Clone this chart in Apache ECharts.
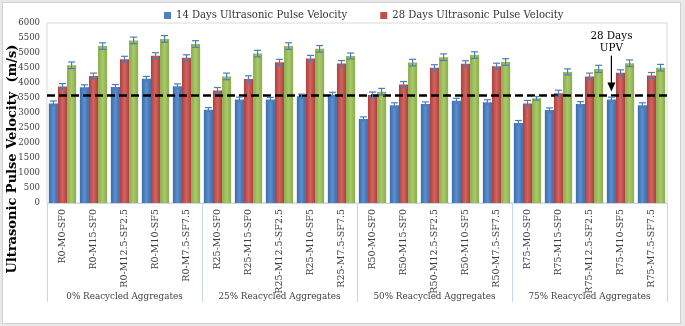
<!DOCTYPE html>
<html>
<head>
<meta charset="utf-8">
<script src="https://cdn.jsdelivr.net/npm/echarts@6/dist/echarts.min.js"></script>
<style>
  html, body { margin: 0; padding: 0; background: #e9e9e9; }
  #chart {
    position: absolute; left: 2px; top: 2px;
    width: 679px; height: 322px;
    background: #fff; border: 1px solid #d0d0d0; box-sizing: border-box;
  }
</style>
</head>
<body>
<div id="chart"></div>
<script>
const categories = [
  'R0-M0-SF0', 'R0-M15-SF0', 'R0-M12.5-SF2.5', 'R0-M10-SF5', 'R0-M7.5-SF7.5',
  'R25-M0-SF0', 'R25-M15-SF0', 'R25-M12.5-SF2.5', 'R25-M10-SF5', 'R25-M7.5-SF7.5',
  'R50-M0-SF0', 'R50-M15-SF0', 'R50-M12.5-SF2.5', 'R50-M10-SF5', 'R50-M7.5-SF7.5',
  'R75-M0-SF0', 'R75-M15-SF0', 'R75-M12.5-SF2.5', 'R75-M10-SF5', 'R75-M7.5-SF7.5'
]
const groups = ['0% Reacycled Aggregates', '25% Reacycled Aggregates', '50% Reacycled Aggregates', '75% Reacycled Aggregates']

const seriesNames = ['14 Days Ultrasonic Pulse Velocity', '28 Days Ultrasonic Pulse Velocity', '56 Days Ultrasonic Pulse Velocity']

const upv14 = [3320, 3860, 3870, 4140, 3890, 3110, 3450, 3450, 3560, 3610, 2800, 3260, 3300, 3410, 3360, 2670, 3100, 3300, 3450, 3260]
const upv28 = [3880, 4230, 4790, 4910, 4840, 3750, 4130, 4690, 4820, 4650, 3600, 3950, 4510, 4640, 4560, 3320, 3660, 4220, 4340, 4250]
const upv56 = [4590, 5230, 5420, 5470, 5300, 4220, 4980, 5230, 5140, 4900, 3710, 4680, 4860, 4930, 4700, 3490, 4370, 4470, 4660, 4510]

const err14 = [80, 80, 80, 80, 80, 70, 80, 70, 70, 80, 70, 80, 70, 80, 80, 80, 70, 80, 80, 80]
const err28 = [100, 100, 100, 100, 100, 100, 110, 100, 100, 100, 100, 100, 100, 100, 100, 100, 100, 110, 100, 100]
const err56 = [110, 110, 110, 110, 110, 110, 110, 110, 110, 100, 110, 110, 110, 110, 110, 60, 100, 120, 110, 110]

const upvLimit = 3580
const arrowCategory = 'R75-M10-SF5'

const yTicks = { min: 0, max: 6000, interval: 500 }

const colors = [
  ['#3a6cab', '#5c8fcf', '#3a6cab'],
  ['#b03f3c', '#cf6461', '#b03f3c'],
  ['#8aac4a', '#a9c86a', '#8aac4a']
]

const serif = 'DejaVu Serif'
const serifNarrow = '"DejaVu Serif Condensed", "DejaVu Serif"'
const gapRatio = 0.12

const grad = (c) => new echarts.graphic.LinearGradient(0, 0, 1, 0, [
  { offset: 0, color: c[0] }, { offset: 0.5, color: c[1] }, { offset: 1, color: c[2] }
])

const errRender = (idx) => (params, api) => {
  const x = api.value(0)
  const v = api.value(1)
  const e = api.value(2)
  const band = api.size([1, 0])[0]
  const bw = band * (1 - gapRatio) / 3
  const cx = api.coord([x, v])[0] + (idx - 1) * bw
  const hi = api.coord([x, v + e])[1]
  const lo = api.coord([x, v - e])[1]
  const st = { stroke: '#4a7ebb', lineWidth: 1.2 }
  return {
    type: 'group',
    children: [
      { type: 'line', shape: { x1: cx, y1: hi, x2: cx, y2: lo }, style: st },
      { type: 'line', shape: { x1: cx - 3.5, y1: hi, x2: cx + 3.5, y2: hi }, style: st },
      { type: 'line', shape: { x1: cx - 3.5, y1: lo, x2: cx + 3.5, y2: lo }, style: st }
    ]
  }
}

const values = [upv14, upv28, upv56]
const errs = [err14, err28, err56]

const series = []
values.forEach((vals, i) => {
  series.push({
    name: seriesNames[i],
    type: 'bar',
    data: vals,
    barGap: '0%',
    barCategoryGap: (gapRatio * 100) + '%',
    itemStyle: { color: grad(colors[i]) },
    markLine: i === 0 ? {
      silent: true,
      symbol: 'none',
      label: { show: false },
      lineStyle: { color: '#000', width: 2.5, type: [8, 4] },
      data: [{ yAxis: upvLimit }]
    } : undefined
  })
})
errs.forEach((es, i) => {
  series.push({
    type: 'custom',
    renderItem: errRender(i),
    z: 5,
    data: values[i].map((v, k) => [k, v, es[k]])
  })
})

const chart = echarts.init(document.getElementById('chart'))

chart.setOption({
  animation: false,
  textStyle: { fontFamily: serif },
  legend: {
    data: [
      { name: seriesNames[0], itemStyle: { color: '#4f81bd' } },
      { name: seriesNames[1], itemStyle: { color: '#c0504d' } }
    ],
    top: 2,
    left: 156,
    icon: 'rect',
    itemWidth: 7,
    itemHeight: 7,
    itemGap: 33,
    itemStyle: { borderWidth: 0 },
    textStyle: { fontFamily: serifNarrow, fontSize: 11.2, color: '#333' }
  },
  grid: {
    left: 44, right: 13, top: 20, bottom: 120,
    containLabel: false,
    outerBoundsMode: 'none',
    show: true, borderColor: '#d9d9d9', borderWidth: 1
  },
  xAxis: [
    {
      type: 'category',
      data: categories,
      axisLine: { lineStyle: { color: '#c6d7ec' } },
      axisTick: { show: false },
      axisLabel: { rotate: 90, interval: 0, fontSize: 9.5, color: '#404040', margin: 6 }
    },
    {
      type: 'category',
      data: groups,
      position: 'bottom',
      axisLine: { show: false },
      axisTick: { show: true, length: 99, lineStyle: { color: '#c6d7ec' } },
      axisLabel: { interval: 0, fontFamily: serifNarrow, fontSize: 9.8, color: '#404040', margin: 88 }
    }
  ],
  yAxis: {
    type: 'value',
    min: yTicks.min,
    max: yTicks.max,
    interval: yTicks.interval,
    axisLine: { show: false },
    axisTick: { show: false },
    splitLine: { show: false },
    axisLabel: { fontFamily: serifNarrow, fontSize: 9.5, color: '#404040', margin: 7, formatter: (v) => String(v) }
  },
  graphic: [
    {
      id: 'ytitle', type: 'text', x: 10, y: 156, rotation: Math.PI / 2,
      style: {
        text: 'Ultrasonic Pulse Velocity  (m/s)', fill: '#000',
        font: 'bold 13px "DejaVu Serif"', align: 'center', verticalAlign: 'middle'
      }
    }
  ],
  series: series
})

// annotation arrow pointing at the 28-day UPV line
const drawNote = () => {
  const k = categories.indexOf(arrowCategory)
  const p = chart.convertToPixel({ xAxisIndex: 0, yAxisIndex: 0 }, [k, upvLimit])
  const p2 = chart.convertToPixel({ xAxisIndex: 0, yAxisIndex: 0 }, [k + 1, upvLimit])
  const bw = (p2[0] - p[0]) * (1 - gapRatio) / 3
  const x = p[0] - bw
  const tipY = p[1] - 4
  chart.setOption({
    graphic: [
      { id: 'arrowShaft', type: 'line', shape: { x1: x, y1: tipY - 36, x2: x, y2: tipY - 8 }, style: { stroke: '#000', lineWidth: 1.2 } },
      { id: 'arrowHead', type: 'polygon', shape: { points: [[x - 4, tipY - 9], [x + 4, tipY - 9], [x, tipY]] }, style: { fill: '#000' } },
      {
        id: 'arrowText', type: 'text', x: x, y: tipY - 62,
        style: { text: '28 Days\nUPV', fill: '#000', font: '11.5px "DejaVu Serif Condensed", "DejaVu Serif"', align: 'center', lineHeight: 12 }
      }
    ]
  })
}
drawNote()
</script>
</body>
</html>
